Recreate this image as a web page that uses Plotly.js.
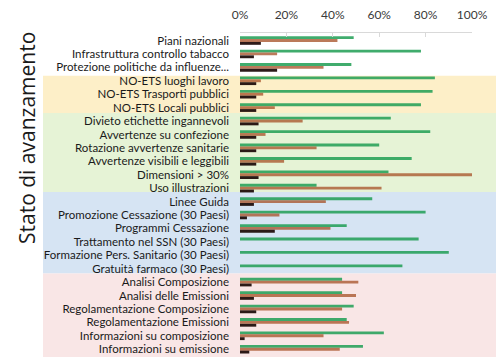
<!DOCTYPE html>
<html>
<head>
<meta charset="utf-8">
<script src="https://cdn.plot.ly/plotly-3.0.1.min.js"></script>
<style>html,body{margin:0;padding:0;background:#fff;}#chart{width:498px;height:359px;}</style>
</head>
<body>
<div id="chart"></div>
<script>
const categories = [
  "Piani nazionali",
  "Infrastruttura controllo tabacco",
  "Protezione politiche da influenze...",
  "NO-ETS luoghi lavoro",
  "NO-ETS Trasporti pubblici",
  "NO-ETS Locali pubblici",
  "Divieto etichette ingannevoli",
  "Avvertenze su confezione",
  "Rotazione avvertenze sanitarie",
  "Avvertenze visibili e leggibili",
  "Dimensioni > 30%",
  "Uso illustrazioni",
  "Linee Guida",
  "Promozione Cessazione (30 Paesi)",
  "Programmi Cessazione",
  "Trattamento nel SSN (30 Paesi)",
  "Formazione Pers. Sanitario (30 Paesi)",
  "Gratuità farmaco (30 Paesi)",
  "Analisi Composizione",
  "Analisi delle Emissioni",
  "Regolamentazione Composizione",
  "Regolamentazione Emissioni",
  "Informazioni su composizione",
  "Informazioni su emissione"
];
const greenValues = [0.49,0.78,0.48,0.84,0.83,0.78,0.65,0.82,0.60,0.74,0.64,0.33,0.57,0.80,0.46,0.77,0.90,0.70,0.44,0.44,0.49,0.46,0.62,0.53];
const brownValues = [0.42,0.16,0.36,0.09,0.10,0.15,0.27,0.11,0.33,0.19,1.00,0.61,0.37,0.17,0.39,0,0,0,0.51,0.50,0.44,0.47,0.36,0.43];
const darkValues  = [0.09,0.06,0.16,0.07,0.07,0.07,0.08,0.07,0.07,0.07,0.08,0.06,0.06,0.03,0.15,0,0,0,0.05,0.06,0.07,0.07,0.02,0.04];
const xTickValues = [0,0.2,0.4,0.6,0.8,1.0];
const xTickLabels = ["0%","20%","40%","60%","80%","100%"];
// band groups: [start, end, colour]
const bands = [
  [2.62, 5.4, "#fdefc8"],
  [5.4, 11.28, "#e6f3d6"],
  [11.28, 17.35, "#d6e4f3"],
  [17.35, 23.7, "#f9e6e6"]
];

const mk = (vals, color, op) => ({
  type: "bar", orientation: "h", y: categories, x: vals,
  marker: {color: color, opacity: op, line: {width: 0}},
  hoverinfo: "x+y"
});
const data = [
  mk(greenValues, "#1f9e54", 0.85),
  mk(brownValues, "#a8542c", 0.78),
  mk(darkValues, "#1a0805", 0.92)
];

const plotL = 240, plotW = 232;
const shapes = bands.map(b => ({
  type: "rect", layer: "below", xref: "paper", yref: "y",
  x0: (43 - plotL) / plotW, x1: (496 - plotL) / plotW,
  y0: b[0], y1: b[1], fillcolor: b[2], line: {width: 0}
}));

const layout = {
  width: 498, height: 359,
  margin: {l: plotL, r: 498 - plotL - plotW, t: 33, b: 2, pad: 0},
  paper_bgcolor: "#fff", plot_bgcolor: "rgba(0,0,0,0)",
  showlegend: false,
  barmode: "group", bargap: 0.36, bargroupgap: 0,
  font: {family: "Lato, 'Open Sans', sans-serif", color: "#1a1a1a"},
  xaxis: {
    side: "top", range: [0, 1], tickvals: xTickValues, ticktext: xTickLabels,
    showgrid: false, zeroline: false, showline: true, linecolor: "#d9d9d9", linewidth: 1,
    ticks: "inside", ticklen: 4, tickcolor: "#d9d9d9",
    tickfont: {size: 12, color: "#3a3a3a", family: "Lato, 'Open Sans', sans-serif"},
    ticklabelstandoff: 8, fixedrange: true
  },
  yaxis: {
    type: "category", range: [23.58, -0.56],
    tickmode: "array", tickvals: categories, ticktext: categories,
    showgrid: false, zeroline: false, showline: false, ticks: "",
    tickfont: {size: 11.5, color: "#1a1a1a", family: "Lato, 'Open Sans', sans-serif"},
    ticklabelstandoff: 10, automargin: false, fixedrange: true
  },
  shapes: shapes,
  annotations: [{
    text: "Stato di avanzamento", xref: "paper", yref: "paper",
    x: (27 - plotL) / plotW, y: 1 - (138 - 33) / 324,
    xanchor: "center", yanchor: "middle", textangle: -90, showarrow: false,
    font: {size: 21, family: "'Open Sans', sans-serif", color: "#1a1a1a"}
  }]
};
Plotly.newPlot("chart", data, layout, {displayModeBar: false, staticPlot: true});
</script>
</body>
</html>
